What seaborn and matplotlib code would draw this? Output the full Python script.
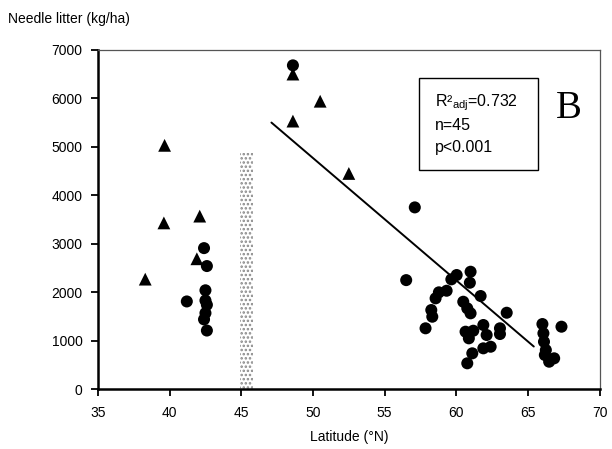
import matplotlib
matplotlib.use("Agg")
import matplotlib.pyplot as plt
import seaborn as sns
import pandas as pd
from matplotlib.patches import Rectangle

# ---- data ----
tri_lat = [38.3, 39.6, 39.65, 41.9, 42.1, 48.6, 48.6, 50.5, 52.5]
tri_val = [2270, 3430, 5030, 2690, 3570, 6500, 5530, 5940, 4450]

circ_lat = [41.2, 42.4, 42.6, 42.5, 42.5, 42.6, 42.5, 42.4, 42.6,
            48.6, 57.1, 56.5,
            60.02, 59.65, 60.99, 60.94, 59.32, 58.78, 58.55, 61.69, 60.48,
            60.76, 60.99, 58.25, 58.32, 63.51, 57.85, 61.88, 63.04, 63.04,
            60.64, 61.18, 60.87, 62.11, 62.39, 61.88, 61.11, 60.76,
            66.0, 67.33, 66.07, 66.11, 66.24, 66.82, 66.47, 66.17]
circ_val = [1810, 2910, 2540, 2040, 1830, 1740, 1570, 1440, 1210,
            6680, 3750, 2250,
            2355, 2266, 2423, 2196, 2031, 1998, 1874, 1922, 1804,
            1668, 1565, 1633, 1495, 1577, 1256, 1324, 1256, 1138,
            1186, 1206, 1049, 1118, 876, 843, 740, 534,
            1344, 1289, 1153, 979, 808, 637, 567, 705]

fit_lat = [47.1, 65.4]
fit_val = [5500, 880]

band_lat = [44.9, 45.8]
band_top = 4870

x_ticks = [35, 40, 45, 50, 55, 60, 65, 70]
y_ticks = [0, 1000, 2000, 3000, 4000, 5000, 6000, 7000]

stats_lines = [r"R²$_{\mathrm{adj}}$=0.732", "n=45", "p<0.001"]
panel_letter = "B"
x_label = "Latitude (°N)"
y_label = "Needle litter (kg/ha)"

# ---- style ----
sns.set_theme(style="white")
plt.rcParams["font.family"] = ["Liberation Sans", "DejaVu Sans"]
plt.rcParams["mathtext.fontset"] = "custom"
plt.rcParams["mathtext.rm"] = "Liberation Sans"
plt.rcParams["mathtext.it"] = "Liberation Sans"
plt.rcParams["hatch.color"] = "#222222"
plt.rcParams["hatch.linewidth"] = 1.2

fig = plt.figure(figsize=(6.12, 4.49), dpi=100)
ax = fig.add_axes([0.160, 0.1332, 0.820, 0.7558])

tri_df = pd.DataFrame({"lat": tri_lat, "val": tri_val})
circ_df = pd.DataFrame({"lat": circ_lat, "val": circ_val})

# stippled band
ax.bar(x=(band_lat[0] + band_lat[1]) / 2, height=band_top,
       width=band_lat[1] - band_lat[0], bottom=0,
       facecolor="white", edgecolor="#888888", linewidth=0,
       hatch="....", zorder=1)

sns.lineplot(x=fit_lat, y=fit_val, color="black", linewidth=1.4, ax=ax, zorder=2)
sns.scatterplot(data=tri_df, x="lat", y="val", marker="^", s=85,
                color="black", edgecolor="none", linewidth=0, ax=ax, zorder=3)
sns.scatterplot(data=circ_df, x="lat", y="val", marker="o", s=75,
                color="black", edgecolor="none", linewidth=0, ax=ax, zorder=3)

ax.set_xlim(35, 70)
ax.set_ylim(0, 7000)
ax.set_xticks(x_ticks)
ax.set_yticks(y_ticks)
ax.set_xticklabels([str(t) for t in x_ticks])
ax.set_yticklabels([str(t) for t in y_ticks])
ax.tick_params(axis="both", direction="out", length=5, width=1.3,
               color="black", labelsize=10, labelcolor="black", pad=6)
ax.tick_params(axis="x", pad=7)
ax.tick_params(bottom=True, left=True)

for side in ["left", "bottom"]:
    ax.spines[side].set_color("black")
    ax.spines[side].set_linewidth(1.8)
for side in ["top", "right"]:
    ax.spines[side].set_color("#555555")
    ax.spines[side].set_linewidth(0.9)

ax.set_xlabel(x_label, fontsize=10, labelpad=7, color="black")
ax.set_ylabel("")
fig.text(0.013, 0.958, y_label, fontsize=10, ha="left", va="center", color="black")

# stats box
ax.add_patch(Rectangle((0.639, 0.646), 0.237, 0.271, transform=ax.transAxes,
                       facecolor="white", edgecolor="black", linewidth=1.0, zorder=4))
line_y = [0.845, 0.776, 0.711]
for txt, yy in zip(stats_lines, line_y):
    ax.text(0.672, yy, txt, transform=ax.transAxes, fontsize=11.5,
            ha="left", va="center", color="black", zorder=5)

ax.text(0.938, 0.826, panel_letter, transform=ax.transAxes, fontsize=28,
        family=["Liberation Serif", "DejaVu Serif"], ha="center", va="center",
        color="black", zorder=5)

fig.savefig("out.png", dpi=100)
